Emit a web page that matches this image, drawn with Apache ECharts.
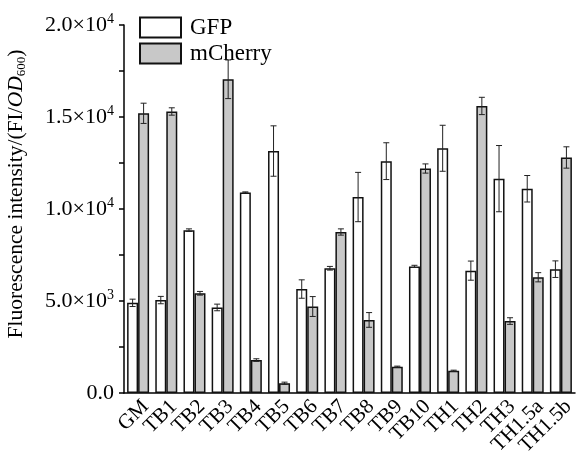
<!DOCTYPE html>
<html>
<head>
<meta charset="utf-8">
<script src="https://cdn.jsdelivr.net/npm/echarts@6/dist/echarts.min.js"></script>
<style>
html,body{margin:0;padding:0;background:#fff;}
#chart{width:576px;height:461px;}
</style>
</head>
<body>
<div id="chart"></div>
<script>
var categories = ['GM','TB1','TB2','TB3','TB4','TB5','TB6','TB7','TB8','TB9','TB10','TH1','TH2','TH3','TH1.5a','TH1.5b'];
var gfp      = [4900, 5050, 8850, 4650, 10900, 13150, 5650, 6780, 10650, 12600, 6880, 13300, 6650, 11650, 11100, 6730];
var gfpErr   = [200, 200, 70, 180, 30, 1370, 500, 100, 1340, 1000, 60, 1250, 520, 1800, 720, 450];
var mcherry  = [15200, 15300, 5420, 17050, 1790, 530, 4700, 8750, 3970, 1430, 12200, 1210, 15600, 3910, 6290, 12800];
var mcherryErr = [550, 200, 100, 1050, 70, 60, 540, 170, 400, 30, 250, 30, 470, 180, 250, 580];

var chart = echarts.init(document.getElementById('chart'));
var serif = '"Liberation Serif","Times New Roman",serif';
var BW = 11;

function errData(vals, errs) {
    return vals.map(function (v, i) { return [i, v, errs[i]]; });
}

// error bars drawn on top of the bars, shifted to the bar's centre
function errRender(shift) {
    return function (params, api) {
        var i = api.value(0), v = api.value(1), e = api.value(2);
        var hi = api.coord([i, v + e]);
        var lo = api.coord([i, v - e]);
        var x = hi[0] + shift;
        var st = {stroke: '#222', lineWidth: 1};
        return {
            type: 'group',
            children: [
                {type: 'line', shape: {x1: x, y1: hi[1], x2: x, y2: lo[1]}, style: st},
                {type: 'line', shape: {x1: x - 3, y1: hi[1], x2: x + 3, y2: hi[1]}, style: st},
                {type: 'line', shape: {x1: x - 3, y1: lo[1], x2: x + 3, y2: lo[1]}, style: st}
            ]
        };
    };
}

function yFmt(v) {
    if (v === 0) return '{a|0.0}';
    var exp = Math.floor(Math.log10(v));
    var m = (v / Math.pow(10, exp)).toFixed(1);
    return '{a|' + m + '×10}{s|' + exp + '}';
}

var option = {
    backgroundColor: '#fff',
    animation: false,
    legend: {
        orient: 'vertical',
        left: 134,
        top: 11,
        itemWidth: 41,
        itemHeight: 20,
        itemGap: 3,
        icon: 'rect',
        textStyle: {fontFamily: serif, fontSize: 23, color: '#000', padding: [0, 0, 0, 4]},
        data: ['GFP', 'mCherry']
    },
    grid: {left: 124, right: 1, top: 25, bottom: 68, containLabel: false, outerBoundsMode: 'none'},
    xAxis: {
        type: 'category',
        data: categories,
        axisLine: {lineStyle: {color: '#000', width: 1.5}},
        axisTick: {show: false},
        axisLabel: {
            rotate: 45,
            interval: 0,
            margin: 3,
            verticalAlign: 'top',
            fontFamily: serif,
            fontSize: 21,
            color: '#000'
        }
    },
    yAxis: {
        type: 'value',
        min: 0,
        max: 20000,
        interval: 5000,
        name: '{n|Fluorescence intensity/(FI/}{i|OD}{sub|600}{n|)}',
        nameLocation: 'middle',
        nameGap: 96,
        nameTextStyle: {
            padding: [0, 0, 0, 30],
            rich: {
                n: {fontFamily: serif, fontSize: 21.5, color: '#000'},
                i: {fontFamily: serif, fontSize: 21.5, fontStyle: 'italic', color: '#000'},
                sub: {fontFamily: serif, fontSize: 13, color: '#000', verticalAlign: 'bottom', padding: [11, 0, 0, 0]}
            }
        },
        splitLine: {show: false},
        axisLine: {show: true, lineStyle: {color: '#000', width: 1.5}},
        axisTick: {show: true, length: 5, lineStyle: {color: '#000', width: 1.5}},
        minorTick: {show: true, splitNumber: 2, length: 5, lineStyle: {color: '#000', width: 1.5}},
        axisLabel: {
            margin: 10,
            formatter: yFmt,
            rich: {
                a: {fontFamily: serif, fontSize: 22, color: '#000'},
                s: {fontFamily: serif, fontSize: 14, color: '#000', verticalAlign: 'top', padding: [0, 0, 11, 0]}
            }
        }
    },
    series: [
        {
            name: 'GFP',
            type: 'bar',
            data: gfp,
            barWidth: BW,
            barGap: '0%',
            itemStyle: {color: '#fff', borderColor: '#111', borderWidth: 1.5}
        },
        {
            name: 'mCherry',
            type: 'bar',
            data: mcherry,
            barWidth: BW,
            barGap: '0%',
            itemStyle: {color: '#c8c8c8', borderColor: '#111', borderWidth: 1.5}
        },
        {
            type: 'custom',
            renderItem: errRender(-BW / 2),
            data: errData(gfp, gfpErr),
            encode: {x: 0, y: 1},
            z: 10
        },
        {
            type: 'custom',
            renderItem: errRender(BW / 2),
            data: errData(mcherry, mcherryErr),
            encode: {x: 0, y: 1},
            z: 10
        }
    ]
};

chart.setOption(option);
</script>
</body>
</html>
